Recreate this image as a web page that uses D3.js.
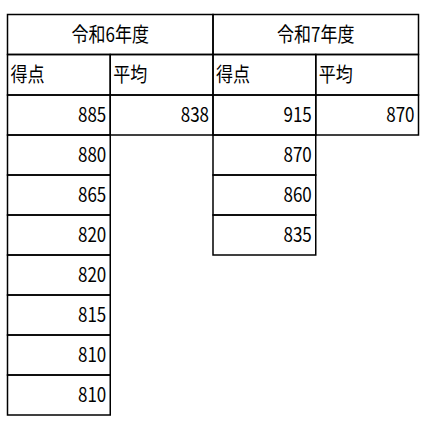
<!DOCTYPE html><html><head><meta charset="utf-8"><script src="https://cdn.jsdelivr.net/npm/d3@7"></script>
<style>body{margin:0;background:#fff}</style></head><body><svg id="c" width="430" height="430"></svg>
<script>
const years=["令和6年度","令和7年度"];
const subHeaders=["得点","平均"];
const scores6=[885,880,865,820,820,815,810,810];
const avg6=[838];
const scores7=[915,870,860,835];
const avg7=[870];
const svg=d3.select("#c");
const x=d3.scaleLinear().domain([0,4]).range([7.5,418.5]);
const rowH=40, topY=14.5;
const y=i=>i===0?topY:i===1?54.5:95+(i-2)*rowH;
const font="'Noto Sans CJK JP'";
function cell(c0,c1,r,text,align){
  const x0=x(c0),x1=x(c1),y0=y(r),y1=y(r+1);
  svg.append("rect").attr("x",x0).attr("y",y0).attr("width",x1-x0).attr("height",y1-y0)
    .attr("fill","none").attr("stroke","#000").attr("stroke-width",1.5);
  if(text===undefined)return;
  const tx=align==="middle"?(x0+x1)/2:align==="end"?x1-4:x0+3;
  const g=svg.append("g").attr("transform",`translate(${tx},${(y0+y1)/2+7}) scale(0.85,1)`);
  g.append("text").attr("text-anchor",align).attr("font-family",font).attr("font-size",20).text(text);
}
const sets=[[scores6,avg6],[scores7,avg7]];
years.forEach((yr,k)=>{
  const c=k*2;
  cell(c,c+2,0,yr,"middle");
  subHeaders.forEach((h,j)=>cell(c+j,c+j+1,1,h,"start"));
  sets[k][0].forEach((v,i)=>cell(c,c+1,2+i,v,"end"));
  sets[k][1].forEach((v,i)=>cell(c+1,c+2,2+i,v,"end"));
});
</script></body></html>
